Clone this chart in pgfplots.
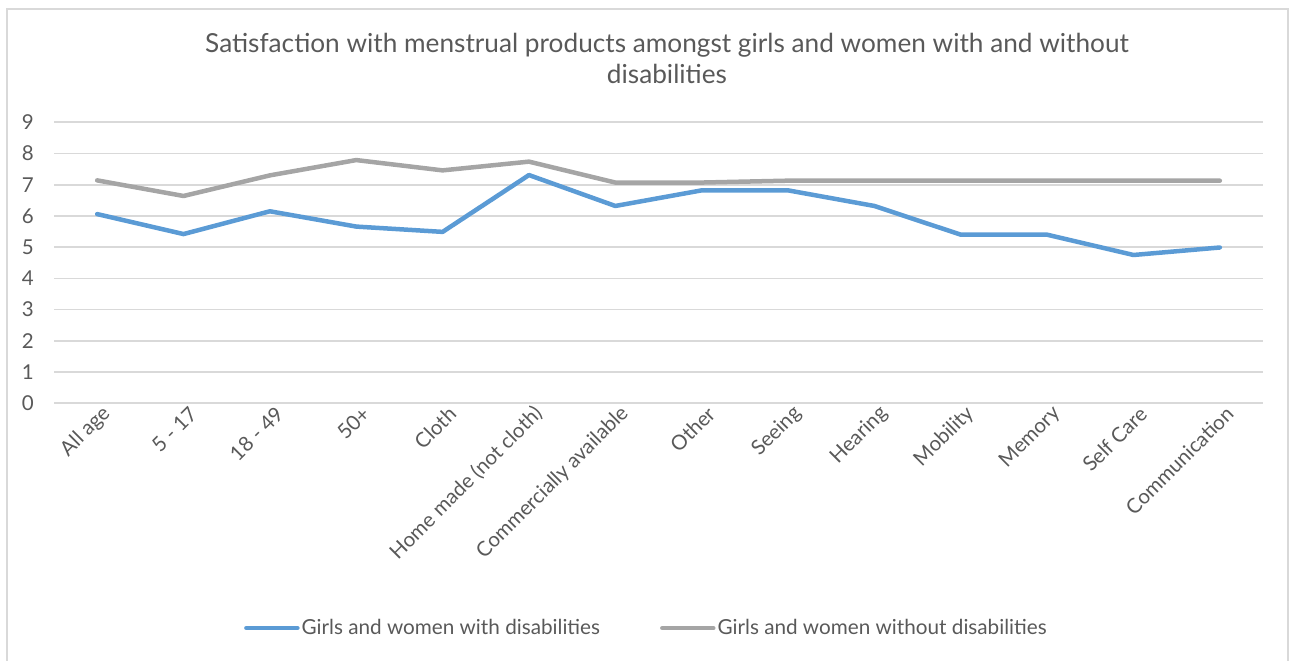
\documentclass[border=0pt]{standalone}
\usepackage{fontspec}
\setmainfont{Lato}
\usepackage{pgfplots}
\pgfplotsset{compat=1.18}
\definecolor{txt}{HTML}{595959}
\definecolor{gridc}{HTML}{D9D9D9}
\definecolor{withdis}{HTML}{5B9BD5}
\definecolor{withoutdis}{HTML}{A5A5A5}

\begin{document}
\begin{tikzpicture}[x=1bp,y=1bp]
\useasboundingbox (0,0) rectangle (1290,661);
\draw[gridc, line width=2bp] (7,0) -- (7,652) -- (1288,652) -- (1288,0);
\begin{axis}[
    at={(54bp,257.7bp)}, anchor=south west,
    width=1209bp, height=281bp, scale only axis,
    xmin=-0.5, xmax=13.5, ymin=0, ymax=9,
    ytick={0,...,9},
    xtick={0,...,13},
    xticklabels={All age, 5 - 17, 18 - 49, 50+, Cloth, Home made (not cloth),
        Commercially available, Other, Seeing, Hearing, Mobility, Memory,
        Self Care, Communication},
    axis line style={draw=none},
    major tick length=0pt,
    ymajorgrids, grid style={gridc, line width=1.6bp},
    /pgf/number format/assume math mode=true,
    tick label style={text=txt, font=\fontsize{20.5bp}{24bp}\selectfont},
    yticklabel style={anchor=east, inner sep=0pt, xshift=-20bp},
    xticklabel style={rotate=45, anchor=east, inner sep=0pt, xshift=2bp, yshift=-12bp},
    title={Satisfaction with menstrual products amongst girls and women with and without\\disabilities},
    title style={at={(0.5,1)}, anchor=center, align=center, xshift=8.5bp, yshift=58bp,
        text=txt, font=\fontsize{26.2bp}{31bp}\selectfont},
    legend columns=2,
    legend style={at={(0.49,-0.80)}, anchor=center, draw=none, fill=none,
        text=txt, font=\fontsize{20.7bp}{24bp}\selectfont,
        /tikz/every even column/.append style={column sep=58bp}},
    legend image code/.code={\draw[#1] (0bp,0bp) -- (51bp,0bp);},
    every axis plot/.append style={line width=4.5bp, line join=round, line cap=round},
]
\addplot[withdis] coordinates {
    (0,6.06) (1,5.42) (2,6.15) (3,5.66) (4,5.49) (5,7.31) (6,6.32)
    (7,6.82) (8,6.82) (9,6.32) (10,5.40) (11,5.40) (12,4.75) (13,4.99)};
\addlegendentry{Girls and women with disabilities}
\addplot[withoutdis] coordinates {
    (0,7.14) (1,6.64) (2,7.30) (3,7.79) (4,7.46) (5,7.74) (6,7.07)
    (7,7.07) (8,7.13) (9,7.13) (10,7.13) (11,7.13) (12,7.13) (13,7.13)};
\addlegendentry{Girls and women without disabilities}
\end{axis}
\end{tikzpicture}
\end{document}
